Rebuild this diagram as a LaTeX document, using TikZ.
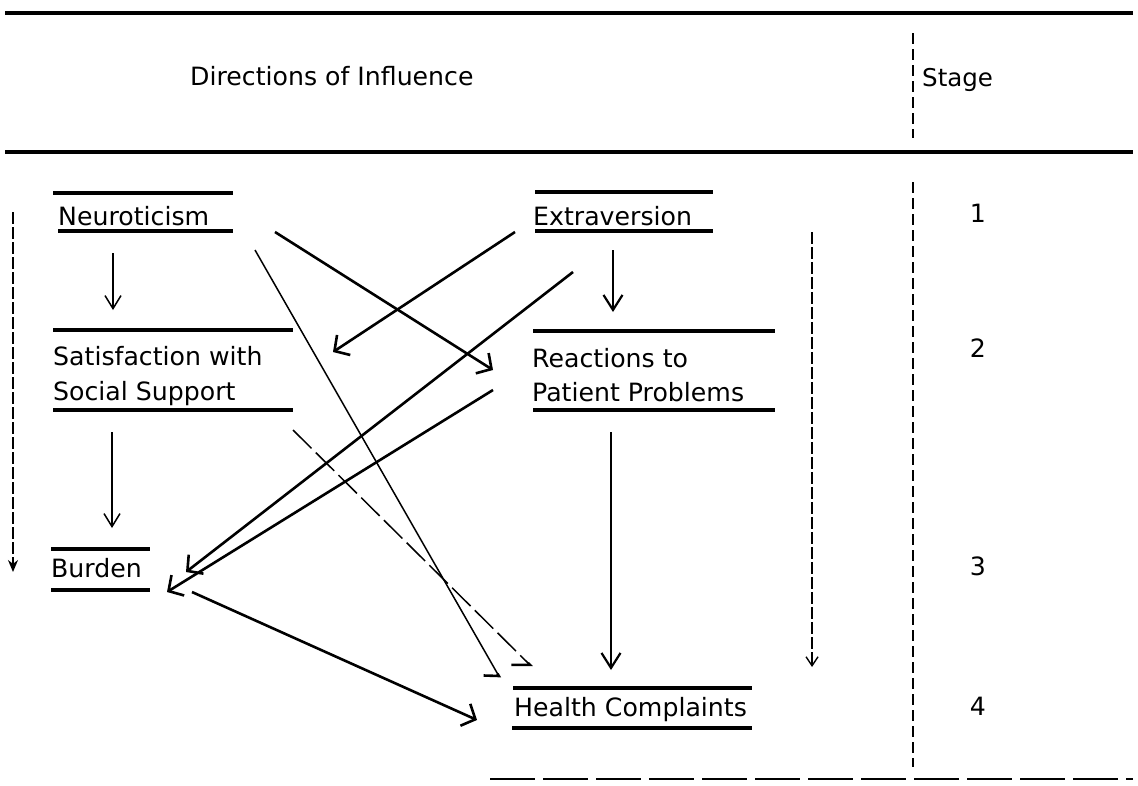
\documentclass[tikz,border=0pt]{standalone}
\usepackage{fontspec}
\setmainfont{DejaVu Sans}
\usetikzlibrary{arrows.meta}
\begin{document}
\begin{tikzpicture}[x=1pt,y=-1pt,
  lbl/.style={anchor=base west, inner sep=0pt, font=\fontsize{25.2}{30}\selectfont},
  num/.style={anchor=base, inner sep=0pt, font=\fontsize{25.2}{30}\selectfont},
  bar/.style={line width=3.2pt},
  rulebar/.style={line width=3.8pt},
  sep/.style={line width=1.4pt, dash pattern=on 11pt off 5pt},
  thickarr/.style={line width=2.6pt, -{Straight Barb[length=11pt,width=24pt]}},
  thinarr/.style={line width=1.5pt, -{Straight Barb[length=13pt,width=16pt]}},
  medarr/.style={line width=2.2pt, -{Straight Barb[length=15pt,width=19pt]}},
  hookA/.style={line width=1.5pt, -{Straight Barb[harpoon,swap,length=8pt,width=26pt,line width=2.6pt]}},
  hookB/.style={line width=1.5pt, dash pattern=on 26pt off 6pt, -{Straight Barb[harpoon,swap,length=13pt,width=26pt,line width=2.6pt]}},
  dasharr/.style={line width=1.4pt, dash pattern=on 12pt off 3pt},
]
\useasboundingbox (0,0) rectangle (1138,785);
\fill[white] (0,0) rectangle (1138,785);

% header rules
\coordinate (r1a) at (5,13);   \coordinate (r1b) at (1133,13);
\coordinate (r2a) at (5,152);  \coordinate (r2b) at (1133,152);
\draw[rulebar] (r1a) -- (r1b);
\draw[rulebar] (r2a) -- (r2b);
\coordinate (h1) at (913,33); \coordinate (h2) at (913,138);
\draw[sep] (h1) -- (h2);
\node[lbl] (title) at (190,85) {Directions of Influence};
\node[lbl, font=\fontsize{24.5}{30}\selectfont] (stage) at (922,86) {Stage};

% stage column
\coordinate (s1) at (913,182); \coordinate (s2) at (913,767);
\draw[sep] (s1) -- (s2);
\node[num] (st1) at (978,222) {1};
\node[num] (st2) at (978,357) {2};
\node[num] (st3) at (978,575) {3};
\node[num] (st4) at (978,715) {4};
\coordinate (b1) at (490,779); \coordinate (b2) at (1133,779);
\draw[line width=2.2pt, dash pattern=on 45pt off 8pt] (b1) -- (b2);

% Neuroticism
\draw[bar] (53,193) -- (233,193);
\draw[bar] (58,231) -- (233,231);
\node[lbl] (neu) at (58,225) {Neuroticism};
% Extraversion
\draw[bar] (535,192) -- (713,192);
\draw[bar] (535,231) -- (713,231);
\node[lbl] (ext) at (533,225) {Extraversion};
% Satisfaction
\draw[bar] (53,330) -- (293,330);
\draw[bar] (53,410) -- (293,410);
\node[lbl] (sat1) at (53,365) {Satisfaction with};
\node[lbl] (sat2) at (53,400) {Social Support};
% Reactions
\draw[bar] (533,331) -- (775,331);
\draw[bar] (533,410) -- (775,410);
\node[lbl] (rea1) at (532,367) {Reactions to};
\node[lbl] (rea2) at (532,401) {Patient Problems};
% Burden
\draw[bar] (51,549) -- (150,549);
\draw[bar] (51,590) -- (150,590);
\node[lbl] (bur) at (51,577) {Burden};
% Health
\draw[bar] (513,688) -- (752,688);
\draw[bar] (512,728) -- (752,728);
\node[lbl] (hea) at (514,716) {Health Complaints};

% connector end points
\coordinate (neuS) at (113,253);  \coordinate (satN) at (113,310);
\coordinate (extS) at (613,250);  \coordinate (reaN) at (613,312);
\coordinate (satS) at (112,432);  \coordinate (burN) at (112,528);
\coordinate (reaS) at (611,432);  \coordinate (heaN) at (611,670);
\coordinate (neuE) at (275,232);  \coordinate (reaW) at (493,370);
\coordinate (neuE2) at (255,250); \coordinate (heaNW) at (500,678);
\coordinate (satE) at (293,430);  \coordinate (heaNW2) at (532,667);
\coordinate (extW) at (515,232);  \coordinate (satNE) at (333,352);
\coordinate (extW2) at (573,272); \coordinate (burE) at (186,572);
\coordinate (reaW2) at (493,390); \coordinate (burE2) at (167,592);
\coordinate (burE3) at (192,592); \coordinate (heaW) at (477,720);
\coordinate (lt) at (13,212);     \coordinate (lb) at (13,572);
\coordinate (rt) at (812,232);    \coordinate (rb) at (812,667);

\draw[thinarr] (neuS) -- (satN);
\draw[medarr] (extS) -- (reaN);
\draw[thinarr] (satS) -- (burN);
\draw[medarr] (reaS) -- (heaN);
\draw[thickarr] (neuE) -- (reaW);
\draw[hookA] (neuE2) -- (heaNW);
\draw[hookB] (satE) -- (heaNW2);
\draw[thickarr] (extW) -- (satNE);
\draw[thickarr] (extW2) -- (burE);
\draw[thickarr] (reaW2) -- (burE2);
\draw[thickarr] (burE3) -- (heaW);
\draw[dasharr, -{Stealth[length=12pt,width=10pt]}] (lt) -- (lb);
\draw[dasharr, -{Straight Barb[length=9pt,width=12pt]}] (rt) -- (rb);
\end{tikzpicture}
\end{document}
